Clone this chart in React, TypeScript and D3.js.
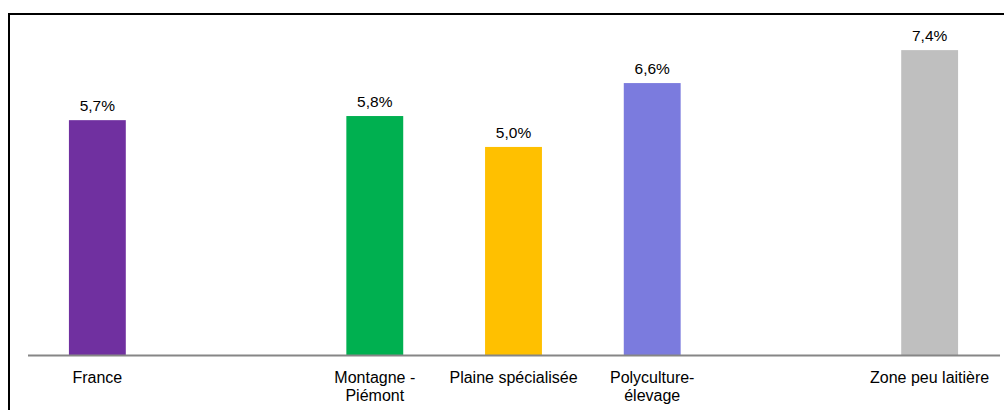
import React from "react";
import * as d3 from "d3";

const categories = ["France", "", "Montagne - Piémont", "Plaine spécialisée", "Polyculture-élevage", "", "Zone peu laitière"];
const labelLines = [["France"], [], ["Montagne -", "Piémont"], ["Plaine spécialisée"], ["Polyculture-", "élevage"], [], ["Zone peu laitière"]];
const values: (number | null)[] = [5.7, null, 5.8, 5.05, 6.6, null, 7.4];
const valueLabels = ["5,7%", "", "5,8%", "5,0%", "6,6%", "", "7,4%"];
const colors = ["#7030A0", "none", "#00B050", "#FFC000", "#7B7BDE", "none", "#BFBFBF"];

const W = 1004;
const H = 410;

export default function App() {
  const x = d3
    .scaleBand<string>()
    .domain(categories.map((c, i) => i + ":" + c))
    .range([28, 999])
    .paddingInner(0.59)
    .paddingOuter(0.295);
  const y = d3.scaleLinear().domain([0, 8]).range([355, 355 - 8 * 41.2]);
  const font = "'Liberation Sans', Arial, sans-serif";
  return (
    <svg
      width={W}
      height={H}
      style={{ position: "fixed", left: 0, top: 0, background: "#fff" }}
    >
      <rect x={9} y={14} width={1100} height={500} fill="#fff" stroke="#000" strokeWidth={2} />
      {categories.map((c, i) => {
        const v = values[i];
        const key = i + ":" + c;
        const bx = x(key)!;
        const bw = x.bandwidth();
        const cx = bx + bw / 2;
        return (
          <g key={key}>
            {v !== null && (
              <>
                <rect x={bx} y={y(v)} width={bw} height={y(0) - y(v)} fill={colors[i]} />
                <text x={cx} y={y(v) - 9} textAnchor="middle" fontFamily={font} fontSize={15.5} fill="#000">
                  {valueLabels[i]}
                </text>
              </>
            )}
            {labelLines[i].map((l, j) => (
              <text key={j} x={cx} y={383 + j * 17.5} textAnchor="middle" fontFamily={font} fontSize={16} fill="#000">
                {l}
              </text>
            ))}
          </g>
        );
      })}
      <line x1={28} x2={1000} y1={355.5} y2={355.5} stroke="#868686" strokeWidth={1.8} />
    </svg>
  );
}
